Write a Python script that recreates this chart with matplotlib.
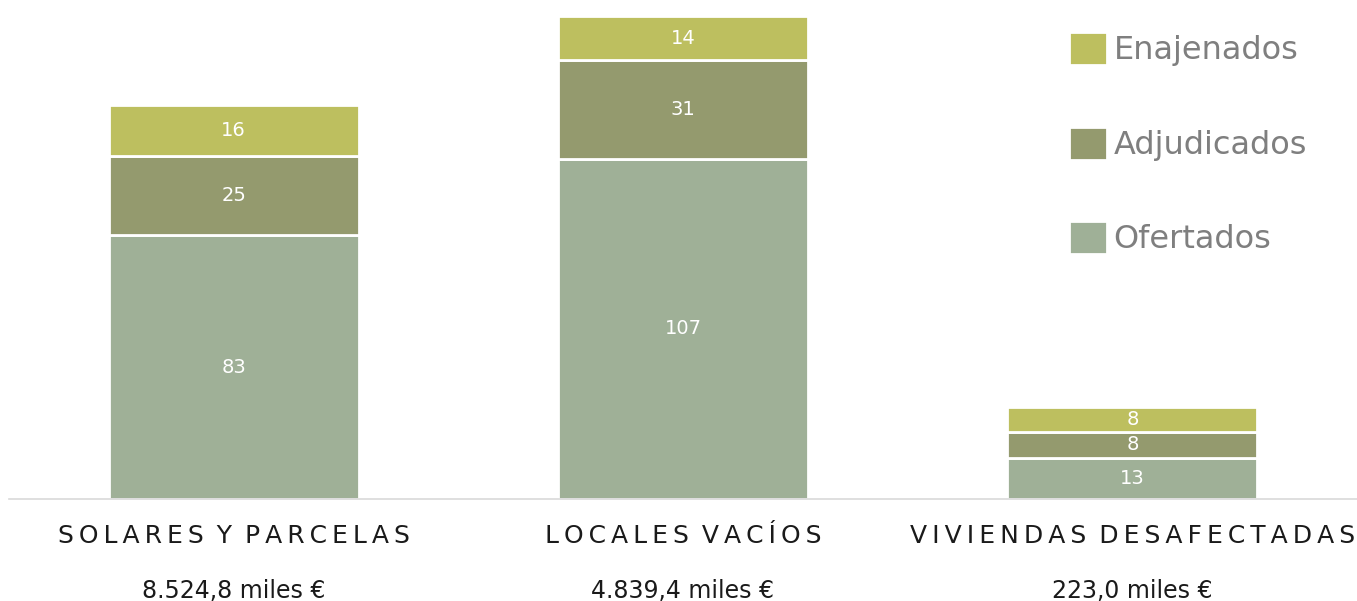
import numpy as np
import matplotlib
matplotlib.use("Agg")
import matplotlib.pyplot as plt
from matplotlib.transforms import blended_transform_factory

# Datos
categorias = ["SOLARES Y PARCELAS", "LOCALES VACÍOS", "VIVIENDAS DESAFECTADAS"]
importes = ["8.524,8 miles €", "4.839,4 miles €", "223,0 miles €"]
ofertados = [83, 107, 13]
adjudicados = [25, 31, 8]
enajenados = [16, 14, 8]

series = [("Ofertados", ofertados, "#9fb097"),
          ("Adjudicados", adjudicados, "#949a6e"),
          ("Enajenados", enajenados, "#bdbf5f")]

fig = plt.figure(figsize=(13.57, 6.01), dpi=100)
ax = fig.add_axes([9 / 1357, 102 / 601, 1348 / 1357, 499 / 601])

x = np.arange(len(categorias))
base = np.zeros(len(categorias))
handles = []
for nombre, vals, color in series:
    bars = ax.bar(x, vals, width=0.557, bottom=base, color=color,
                  edgecolor="white", linewidth=2, label=nombre)
    for xi, b, v in zip(x, base, vals):
        ax.text(xi, b + v / 2, str(v), ha="center", va="center",
                color="white", fontsize=14)
    base += np.array(vals)
    handles.append(bars)

ax.set_xlim(-0.5, 2.5)
ax.set_ylim(0, 157)
for s in ["top", "right", "left"]:
    ax.spines[s].set_visible(False)
ax.spines["bottom"].set_color("#d9d9d9")
ax.spines["bottom"].set_linewidth(1.2)
ax.set_yticks([])
ax.set_xticks([])

tr = blended_transform_factory(ax.transData, ax.transAxes)
for xi, cat, imp in zip(x, categorias, importes):
    # espaciado entre letras
    espaciado = "\u2009".join(cat).replace("\u2009 \u2009", "\u2009 ")
    ax.text(xi, -0.075, espaciado, transform=tr, ha="center", va="center",
            fontsize=18, color="#1a1a1a")
    ax.text(xi, -0.185, imp, transform=tr, ha="center", va="center",
            fontsize=17, color="#1a1a1a")

leg = ax.legend(handles[::-1], [s[0] for s in series][::-1],
                loc="upper left", bbox_to_anchor=(1031 / 1348, 0.993),
                frameon=False, fontsize=23, labelcolor="#7f7f7f",
                handlelength=1.2, handleheight=1.2, labelspacing=1.89,
                handletextpad=0.2)

fig.savefig("out.png", dpi=100)
